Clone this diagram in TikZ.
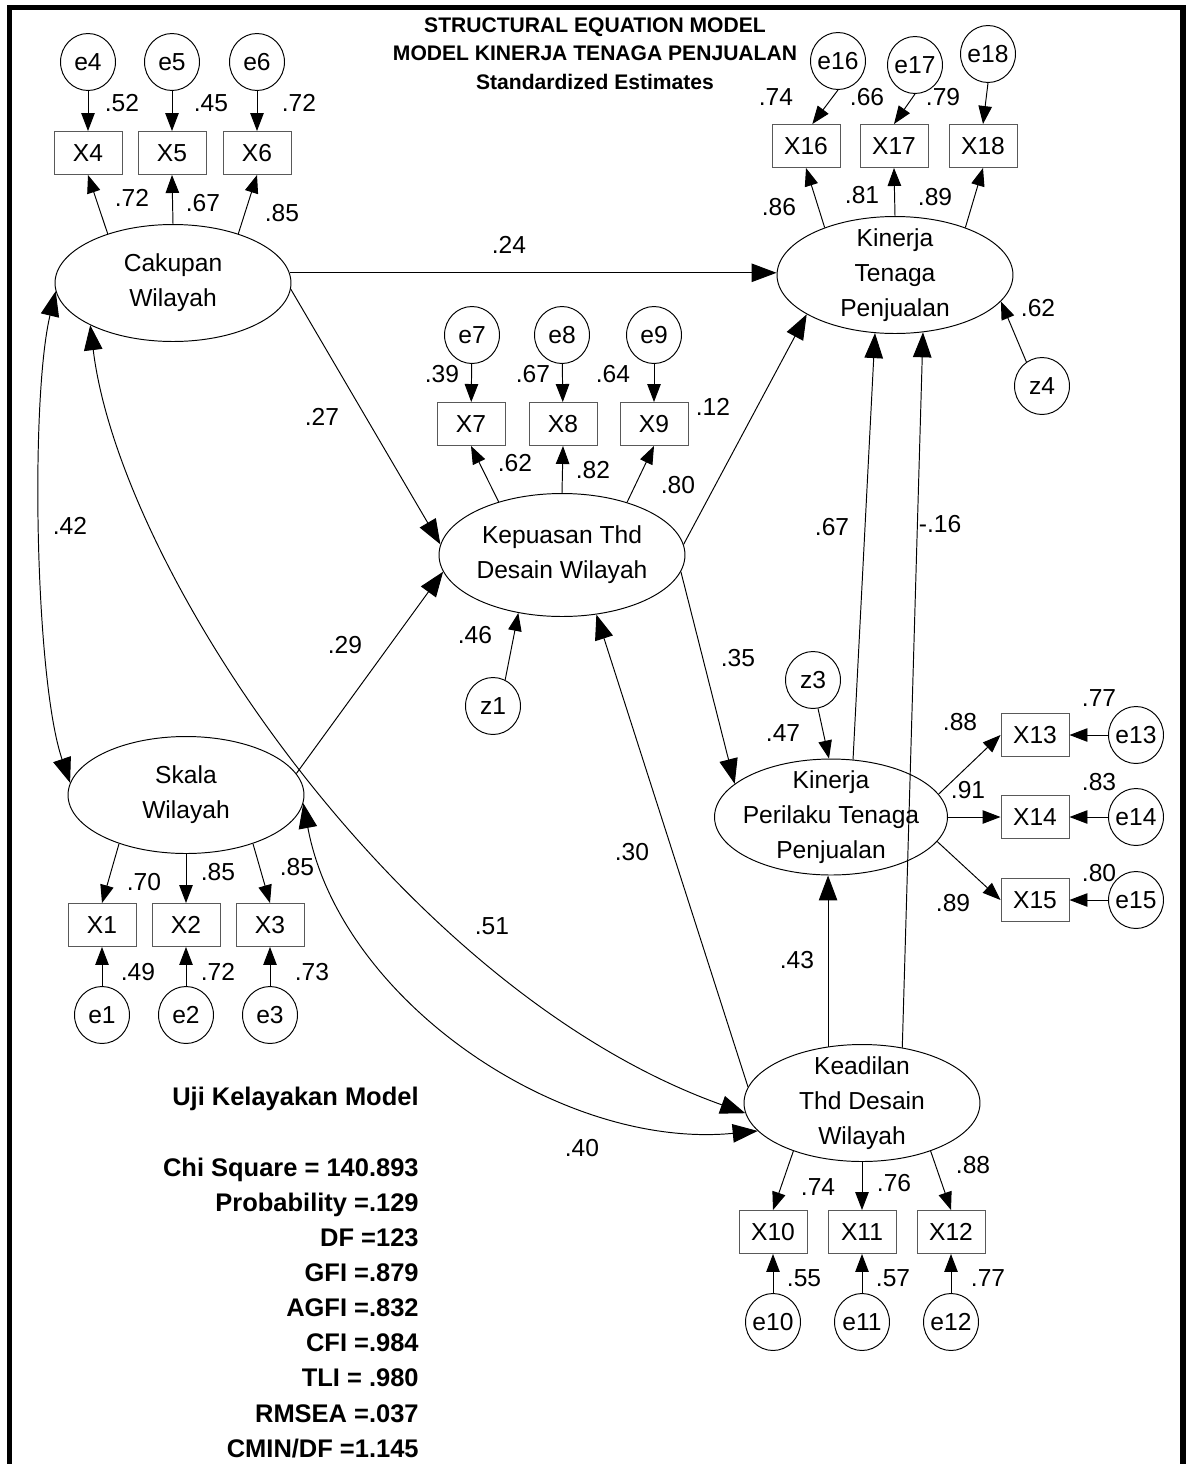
\documentclass[tikz,border=0pt]{standalone}
\usepackage{fontspec}
\setmainfont{Liberation Sans}
\usetikzlibrary{arrows.meta,shapes.geometric}

\begin{document}
\begin{tikzpicture}[x=0.02cm,y=-0.02cm,font=\fontsize{14}{20}\selectfont,
    lat/.style={ellipse,draw,line width=0.55pt,minimum width=4.72cm,minimum height=2.34cm,inner sep=-0.5cm,align=center},
    obs/.style={rectangle,draw=black!65,line width=0.55pt,minimum width=1.36cm,minimum height=0.86cm,inner sep=0pt},
    err/.style={ellipse,draw,line width=0.55pt,minimum width=1.1cm,minimum height=1.14cm,inner sep=-0.1cm},
    coef/.style={inner sep=0pt},
    msr/.style={line width=0.55pt,-{Triangle[length=0.36cm,width=0.27cm]}},
    reg/.style={line width=0.55pt,-{Triangle[length=0.5cm,width=0.37cm]}},
    cov/.style={line width=0.55pt,{Triangle[length=0.5cm,width=0.37cm]}-{Triangle[length=0.5cm,width=0.37cm]}}]
    \useasboundingbox (0,0) rectangle (1189,1464);
    \draw[line width=2.9pt] (9.5,1470) -- (9.5,7.5) -- (1183,7.5) -- (1183,1470);
    \node[font=\bfseries\fontsize{12}{16.4}\selectfont,align=center,anchor=north,inner sep=0pt] (ttl) at (595,17)
        {STRUCTURAL EQUATION MODEL\\MODEL KINERJA TENAGA PENJUALAN\\Standardized Estimates};
    % latent variables
    \node[lat] (cak) at (173,283) {Cakupan\\Wilayah};
    \node[lat] (ktp) at (895,275) {Kinerja\\Tenaga\\Penjualan};
    \node[lat,minimum width=4.92cm,minimum height=2.46cm] (kep) at (562,555) {Kepuasan Thd\\Desain Wilayah};
    \node[lat,minimum width=4.66cm,minimum height=2.32cm] (kper) at (831,817) {Kinerja\\Perilaku Tenaga\\Penjualan};
    \node[lat] (skl) at (186,795) {Skala\\Wilayah};
    \node[lat] (kdl) at (862,1103) {Keadilan\\Thd Desain\\Wilayah};
    % Cakupan Wilayah
    \node[err] (e4) at (88,62) {e4};
    \node[err] (e5) at (172,62) {e5};
    \node[err] (e6) at (257,62) {e6};
    \node[obs] (x4) at (88,153) {X4};
    \node[obs] (x5) at (172,153) {X5};
    \node[obs] (x6) at (257,153) {X6};
    \draw[msr] (e4) -- (x4);
    \draw[msr] (e5) -- (x5);
    \draw[msr] (e6) -- (x6);
    \draw[msr] (cak.143) -- (x4.south);
    \draw[msr] (cak.north) -- (x5.south);
    \draw[msr] (cak.37) -- (x6.south);
    \node[coef] (r4) at (122,103) {.52};
    \node[coef] (r5) at (211,103) {.45};
    \node[coef] (r6) at (299,103) {.72};
    \node[coef] (l4) at (132,198) {.72};
    \node[coef] (l5) at (203,203) {.67};
    \node[coef] (l6) at (282,213) {.85};
    % Kinerja Tenaga Penjualan
    \node[err] (e16) at (838,61) {e16};
    \node[err] (e17) at (915,65) {e17};
    \node[err] (e18) at (988,54) {e18};
    \node[obs] (x16) at (806,146) {X16};
    \node[obs] (x17) at (894,146) {X17};
    \node[obs] (x18) at (983,146) {X18};
    \node[err] (z4) at (1042,386) {z4};
    \draw[msr] (e16.south) -- (x16.74);
    \draw[msr] (e17.south) -- (x17.north);
    \draw[msr] (e18.south) -- (x18.north);
    \draw[msr] (ktp.146) -- (x16.south);
    \draw[msr] (ktp.north) -- (x17.south);
    \draw[msr] (ktp.34) -- (x18.south);
    \draw[msr] (z4.123) -- (ktp.346);
    \node[coef] (r16) at (776,97) {.74};
    \node[coef] (r17) at (867,97) {.66};
    \node[coef] (r18) at (943,97) {.79};
    \node[coef] (l16) at (779,207) {.86};
    \node[coef] (l17) at (862,195) {.81};
    \node[coef] (l18) at (935,197) {.89};
    \node[coef] (p15) at (1038,308) {.62};
    % Kepuasan Thd Desain Wilayah
    \node[err] (e7) at (472,335) {e7};
    \node[err] (e8) at (562,335) {e8};
    \node[err] (e9) at (654,335) {e9};
    \node[obs] (x7) at (471,424) {X7};
    \node[obs] (x8) at (563,424) {X8};
    \node[obs] (x9) at (654,424) {X9};
    \node[err] (z1) at (493,706) {z1};
    \draw[msr] (e7) -- (x7);
    \draw[msr] (e8) -- (x8);
    \draw[msr] (e9) -- (x9);
    \draw[msr] (kep.140) -- (x7.south);
    \draw[msr] (kep.north) -- (x8.south);
    \draw[msr] (kep.39) -- (x9.south);
    \draw[msr] (z1.65) -- (kep.233);
    \node[coef] (r7) at (442,374) {.39};
    \node[coef] (r8) at (533,374) {.67};
    \node[coef] (r9) at (613,374) {.64};
    \node[coef] (l7) at (515,463) {.62};
    \node[coef] (l8) at (593,470) {.82};
    \node[coef] (l9) at (678,485) {.80};
    \node[coef] (p12) at (713,407) {.12};
    \node[coef] (p13) at (475,635) {.46};
    % Kinerja Perilaku Tenaga Penjualan
    \node[err] (z3) at (813,680) {z3};
    \node[obs] (x13) at (1035,735) {X13};
    \node[obs] (x14) at (1035,817) {X14};
    \node[obs] (x15) at (1035,900) {X15};
    \node[err] (e13) at (1136,735) {e13};
    \node[err] (e14) at (1136,817) {e14};
    \node[err] (e15) at (1136,900) {e15};
    \draw[msr] (z3.280) -- (kper.92);
    \draw[msr] (kper.12) -- (x13.west);
    \draw[msr] (kper.east) -- (x14.west);
    \draw[msr] (kper.347) -- (x15.west);
    \draw[msr] (e13) -- (x13);
    \draw[msr] (e14) -- (x14);
    \draw[msr] (e15) -- (x15);
    \node[coef] (p14) at (783,733) {.47};
    \node[coef] (l13) at (960,722) {.88};
    \node[coef] (l14) at (968,790) {.91};
    \node[coef] (l15) at (953,903) {.89};
    \node[coef] (r13) at (1099,698) {.77};
    \node[coef] (r14) at (1099,782) {.83};
    \node[coef] (r15) at (1099,873) {.80};
    % Skala Wilayah
    \node[obs] (x1) at (102,925) {X1};
    \node[obs] (x2) at (186,925) {X2};
    \node[obs] (x3) at (270,925) {X3};
    \node[err] (e1) at (102,1015) {e1};
    \node[err] (e2) at (186,1015) {e2};
    \node[err] (e3) at (270,1015) {e3};
    \draw[msr] (skl.216) -- (x1.north);
    \draw[msr] (skl.south) -- (x2.north);
    \draw[msr] (skl.324) -- (x3.north);
    \draw[msr] (e1) -- (x1);
    \draw[msr] (e2) -- (x2);
    \draw[msr] (e3) -- (x3);
    \node[coef] (l1) at (144,882) {.70};
    \node[coef] (l2) at (218,872) {.85};
    \node[coef] (l3) at (297,867) {.85};
    \node[coef] (r1) at (138,972) {.49};
    \node[coef] (r2) at (218,972) {.72};
    \node[coef] (r3) at (312,972) {.73};
    % Keadilan Thd Desain Wilayah
    \node[obs] (x10) at (773,1232) {X10};
    \node[obs] (x11) at (862,1232) {X11};
    \node[obs] (x12) at (951,1232) {X12};
    \node[err] (e10) at (773,1322) {e10};
    \node[err] (e11) at (862,1322) {e11};
    \node[err] (e12) at (951,1322) {e12};
    \draw[msr] (kdl.215) -- (x10.north);
    \draw[msr] (kdl.south) -- (x11.north);
    \draw[msr] (kdl.325) -- (x12.north);
    \draw[msr] (e10) -- (x10);
    \draw[msr] (e11) -- (x11);
    \draw[msr] (e12) -- (x12);
    \node[coef] (l10) at (818,1187) {.74};
    \node[coef] (l11) at (894,1183) {.76};
    \node[coef] (l12) at (973,1165) {.88};
    \node[coef] (r10) at (804,1278) {.55};
    \node[coef] (r11) at (893,1278) {.57};
    \node[coef] (r12) at (988,1278) {.77};
    % structural paths
    \draw[reg] (cak.5) -- (cak.5 -| ktp.west);
    \draw[reg] (cak.357) -- (kep.175);
    \draw[reg] (skl.11) -- (kep.188);
    \draw[reg] (kep.5) -- (ktp.204);
    \draw[reg] (kep.352) -- (kper.161);
    \draw[reg] (kdl.172) -- (kep.300);
    \draw[reg] (kper.69) -- (ktp.251);
    \draw[reg] (kdl.54) -- (ktp.296);
    \draw[reg] (kdl.121) -- (kdl.121 |- kper.south);
    % covariances
    \draw[cov] (skl.174) .. controls (35,680) and (30,400) .. (cak.184);
    \draw[cov] (cak.207) .. controls (120,570) and (400,990) .. (kdl.185);
    \draw[cov] (skl.356) .. controls (340,1000) and (560,1150) .. (kdl.195);
    \node[coef] (p1) at (509,245) {.24};
    \node[coef] (p2) at (322,417) {.27};
    \node[coef] (p3) at (345,645) {.29};
    \node[coef] (p4) at (70,526) {.42};
    \node[coef] (p5) at (492,926) {.51};
    \node[coef] (p6) at (582,1148) {.40};
    \node[coef] (p7) at (632,852) {.30};
    \node[coef] (p8) at (797,960) {.43};
    \node[coef] (p9) at (832,527) {.67};
    \node[coef] (p10) at (940,524) {-.16};
    \node[coef] (p11) at (738,658) {.35};
    % fit indices
    \node[font=\bfseries\fontsize{14.5}{20}\selectfont,align=right,anchor=north east,inner sep=0pt] (fit) at (419,1087)
        {Uji Kelayakan Model\\[20pt]Chi Square = 140.893\\Probability =.129\\DF =123\\GFI =.879\\AGFI =.832\\CFI =.984\\TLI = .980\\RMSEA =.037\\CMIN/DF =1.145};
\end{tikzpicture}
\end{document}
